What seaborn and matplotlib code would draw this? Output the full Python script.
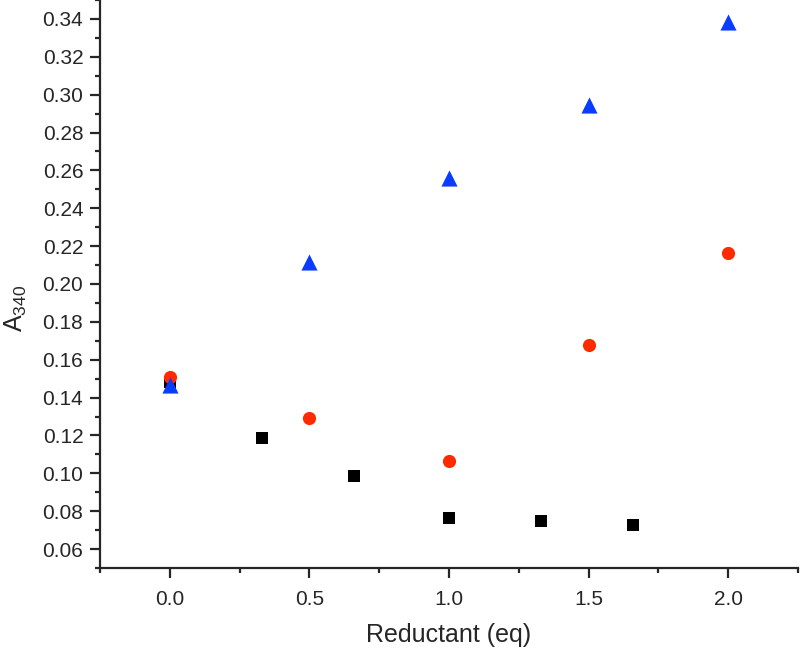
"""
A340 vs reductant equivalents - three titration series
"""

import pandas as pd
import numpy as np
import matplotlib
matplotlib.use('Agg')
import matplotlib.pyplot as plt
from matplotlib.ticker import MultipleLocator
import seaborn as sns

# data
sq_x = [0.0, 0.33, 0.66, 1.0, 1.33, 1.66]
sq_y = [0.148, 0.1185, 0.0985, 0.0765, 0.075, 0.0728]

circ_x = [0.0, 0.5, 1.0, 1.5, 2.0]
circ_y = [0.1511, 0.1294, 0.1066, 0.168, 0.2162]

tri_x = [0.0, 0.5, 1.0, 1.5, 2.0]
tri_y = [0.1464, 0.2118, 0.2562, 0.2948, 0.3386]

series_names = ['squares', 'circles', 'triangles']

df = pd.concat([
    pd.DataFrame({'x': sq_x, 'y': sq_y, 'series': 'squares'}),
    pd.DataFrame({'x': circ_x, 'y': circ_y, 'series': 'circles'}),
    pd.DataFrame({'x': tri_x, 'y': tri_y, 'series': 'triangles'}),
], ignore_index=True)

sns.set_style('ticks')
plt.rcParams['font.family'] = ['Liberation Sans', 'DejaVu Sans']
plt.rcParams['mathtext.fontset'] = 'custom'
plt.rcParams['mathtext.rm'] = 'Liberation Sans'

fig = plt.figure(figsize=(8, 6.51), dpi=100)
ax = fig.add_axes([0.125, 0.1275, 0.8725, 0.8725])

palette = {'squares': 'black', 'circles': '#ff2a00', 'triangles': '#0a3cff'}
markers = {'squares': 's', 'circles': 'o', 'triangles': '^'}
sizes = {'squares': 80, 'circles': 90, 'triangles': 135}

for name in series_names:
    sub = df[df['series'] == name]
    sns.scatterplot(data=sub, x='x', y='y', color=palette[name],
                    marker=markers[name], s=sizes[name], linewidth=0,
                    ax=ax, legend=False)

ax.set_xlim(-0.25, 2.25)
ax.set_ylim(0.05, 0.35)
ax.xaxis.set_minor_locator(MultipleLocator(0.25))
ax.yaxis.set_minor_locator(MultipleLocator(0.01))
xt = np.arange(0, 2.01, 0.5)
ax.set_xticks(xt)
ax.set_xticklabels([f'{v:.1f}' for v in xt])
yt = np.arange(0.06, 0.341, 0.02)
ax.set_yticks(yt)
ax.set_yticklabels([f'{v:.2f}' for v in yt])

sns.despine(ax=ax)
for sp in ['left', 'bottom']:
    ax.spines[sp].set_linewidth(1.6)
ax.tick_params(which='major', direction='out', length=7, width=1.6,
               labelsize=15, pad=5)
ax.tick_params(axis='x', which='major', pad=9)
ax.tick_params(which='minor', direction='out', length=3.8, width=1.6)

ax.set_xlabel('Reductant (eq)', fontsize=18)
ax.set_ylabel(r'A$_{\mathregular{340}}$', fontsize=18)
ax.xaxis.set_label_coords(0.5, -0.097)
ax.yaxis.set_label_coords(-0.102, 0.458)

plt.savefig('out.png', dpi=100)
